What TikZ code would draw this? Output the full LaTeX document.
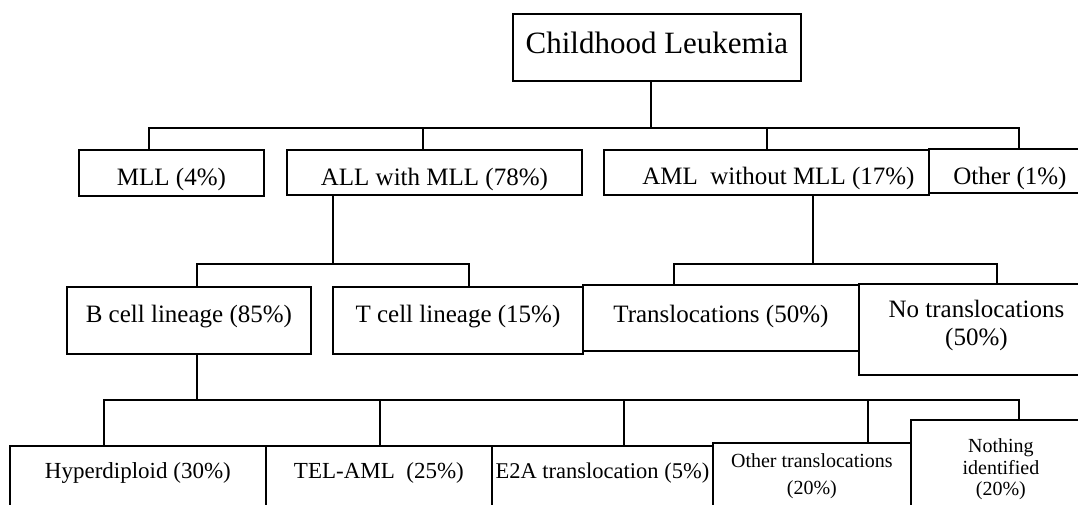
\documentclass[tikz,border=0pt]{standalone}
\usepackage{fontspec}
\setmainfont{Liberation Serif}
\usepackage{tikz}
\tikzset{
    %Define style for boxes
    rootrect/.style={
           rectangle,
           draw=black, line width=1.8pt,
           inner sep=0pt,
           anchor=north west,
           align=center,
           font=\fontsize{31}{34}\selectfont},
    grouprect/.style={
           rectangle,
           draw=black, line width=1.8pt,
           inner sep=0pt,
           anchor=north west,
           align=center,
           font=\fontsize{25}{28}\selectfont},
    leafrect/.style={
           rectangle,
           draw=black, line width=1.8pt,
           inner sep=0pt,
           anchor=north west,
           align=center,
           font=\fontsize{23}{26}\selectfont},
    % Define connector style
    conn/.style={
           draw=black, line width=1.8pt}
}

\begin{document}
\begin{tikzpicture}[x=1pt,y=-1pt]
\useasboundingbox (0,0) rectangle (1078,505);
\clip (0,0) rectangle (1078,505);

 %nodes
\node[rootrect, minimum width=288pt, text height=40pt, text depth=27pt] (root) at (512,13) {Childhood Leukemia};

\node[grouprect, minimum width=185pt, text height=35.5pt, text depth=10.5pt] (mll) at (78,149) {MLL (4\%)};
\node[grouprect, minimum width=295pt, text height=35.5pt, text depth=9.5pt] (all) at (286,149) {ALL with MLL (78\%)};
\node[grouprect, minimum width=325pt, text height=35pt, text depth=10pt] (aml) at (603,149) {\hspace*{24pt}AML\ \ without MLL (17\%)};
\node[grouprect, minimum width=162pt, text height=36pt, text depth=8pt] (oth) at (928,148) {Other (1\%)};

\node[grouprect, minimum width=244pt, text height=36pt, text depth=31pt] (bcell) at (66,286) {B cell lineage (85\%)};
\node[grouprect, minimum width=250pt, text height=36pt, text depth=31pt] (tcell) at (332,286) {T cell lineage (15\%)};
\node[grouprect, minimum width=276pt, text height=38pt, text depth=28pt] (trans) at (582,284) {Translocations (50\%)};
\node[grouprect, minimum width=235pt, text height=62pt, text depth=29pt] (notrans) at (858,283) {No translocations\\(50\%)};

\node[leafrect, minimum width=256pt, text height=33pt, text depth=40pt] (hyper) at (9,445) {Hyperdiploid (30\%)};
\node[leafrect, minimum width=226pt, text height=33pt, text depth=40pt] (tel) at (265,445) {TEL-AML\ \ (25\%)};
\node[leafrect, minimum width=221pt, text height=33pt, text depth=40pt, font=\fontsize{22.5}{25}\selectfont] (e2a) at (491,445) {E2A translocation (5\%)};
\node[leafrect, minimum width=198pt, text height=52pt, text depth=30pt, font=\fontsize{20}{27}\selectfont] (otrans) at (712,442) {Other translocations\\(20\%)};
\node[leafrect, minimum width=180pt, text height=76pt, text depth=30pt, font=\fontsize{20}{21.5}\selectfont] (nothing) at (910,419) {Nothing\\identified\\(20\%)};

 %connectors
\foreach \kid/\dx in {mll/-22.5,all/-11.5,aml/0.5,oth/9}
  \draw[conn] ([xshift=-6pt]root.south) -- ++(0,46.5) -| ([xshift=\dx pt]\kid.north);

\foreach \kid/\dx in {bcell/8,tcell/11}
  \draw[conn] ([xshift=-101.5pt]all.south) -- ++(0,68.5) -| ([xshift=\dx pt]\kid.north);

\foreach \kid/\dx in {trans/-47,notrans/20.5}
  \draw[conn] ([xshift=46.5pt]aml.south) -- ++(0,68) -| ([xshift=\dx pt]\kid.north);

\foreach \kid/\dx in {hyper/-34,tel/1,e2a/21.5,otrans/56,nothing/18}
  \draw[conn] ([xshift=8pt]bcell.south) -- ++(0,45) -| ([xshift=\dx pt]\kid.north);
\end{tikzpicture}
\end{document}
